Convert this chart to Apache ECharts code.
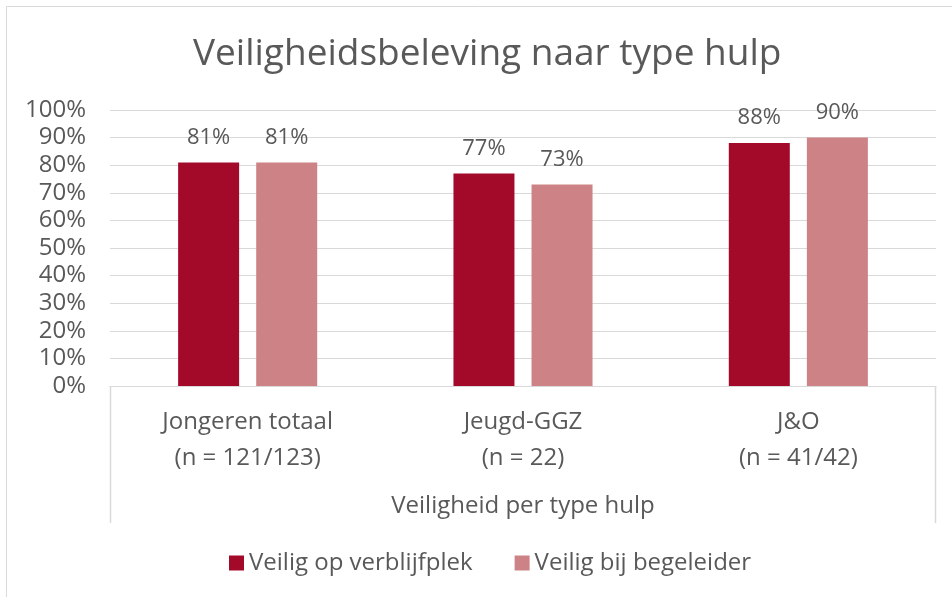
<!DOCTYPE html>
<html><head><meta charset="utf-8">
<script src="https://cdn.jsdelivr.net/npm/echarts@6/dist/echarts.min.js"></script>
<style>html,body{margin:0;padding:0;background:#fff}#c{width:952px;height:597px}</style>
</head><body><div id="c"></div>
<script>
const categories = ["Jongeren totaal\n(n = 121/123)", "Jeugd-GGZ\n(n = 22)", "J&O\n(n = 41/42)"];
const verblijfplek = [81, 77, 88];
const begeleider = [81, 73, 90];
const seriesNames = ["Veilig op verblijfplek", "Veilig bij begeleider"];
const yTicks = [0, 10, 20, 30, 40, 50, 60, 70, 80, 90, 100];

const chart = echarts.init(document.getElementById('c'));
const font = "'Open Sans', 'Noto Sans', sans-serif";
const txt = '#595959';
const grid = {left: 110, right: 16, top: 110, bottom: 211};
chart.setOption({
  animation: false,
  textStyle: {fontFamily: font},
  title: {text: 'Veiligheidsbeleving naar type hulp', left: 188, top: 31,
    textStyle: {fontFamily: font, fontSize: 37, fontWeight: 'normal', color: txt}},
  grid: grid,
  legend: {left: 224, top: 546, itemWidth: 15, itemHeight: 15, itemGap: 42, icon: 'rect',
    textStyle: {fontFamily: font, fontSize: 24, color: txt},
    data: seriesNames},
  xAxis: {type: 'category', data: categories,
    name: 'Veiligheid per type hulp', nameLocation: 'middle', nameGap: 108,
    nameTextStyle: {fontFamily: font, fontSize: 24, color: txt, verticalAlign: 'top'},
    axisLine: {lineStyle: {color: '#d9d9d9', width: 1}},
    axisTick: {show: false},
    axisLabel: {fontFamily: font, fontSize: 24, color: txt, lineHeight: 36, margin: 18}},
  yAxis: {type: 'value', min: 0, max: 100, interval: 10,
    axisLabel: {fontFamily: font, fontSize: 24, color: txt, margin: 24,
      formatter: v => yTicks.includes(v) ? v + '%' : ''},
    splitLine: {lineStyle: {color: '#d9d9d9', width: 1}},
    axisLine: {show: false}, axisTick: {show: false}},
  series: [
    {name: seriesNames[0], type: 'bar', data: verblijfplek, barWidth: 61, barGap: '28%',
      itemStyle: {color: '#A30A29'},
      label: {show: true, position: 'top', distance: 14, fontFamily: font, fontSize: 22, color: txt, formatter: '{c}%'}},
    {name: seriesNames[1], type: 'bar', data: begeleider, barWidth: 61,
      itemStyle: {color: '#CD8386'},
      label: {show: true, position: 'top', distance: 14, fontFamily: font, fontSize: 22, color: txt, formatter: '{c}%'}}
  ]
});
// frame of the category axis area and outer chart border
const x0 = grid.left, x1 = 952 - grid.right, yA = 597 - grid.bottom, yB = 523;
chart.setOption({graphic: [
  {type: 'polyline', shape: {points: [[x0 + 0.5, yB], [x0 + 0.5, yA]]}, style: {stroke: '#d9d9d9', lineWidth: 1.5, fill: null}},
  {type: 'polyline', shape: {points: [[x1 - 0.5, yA], [x1 - 0.5, yB]]}, style: {stroke: '#d9d9d9', lineWidth: 1.5, fill: null}},
  {type: 'rect', shape: {x: 6.5, y: 6.5, width: 1000, height: 1000}, style: {stroke: '#d9d9d9', lineWidth: 1, fill: null}}
]});
</script></body></html>
